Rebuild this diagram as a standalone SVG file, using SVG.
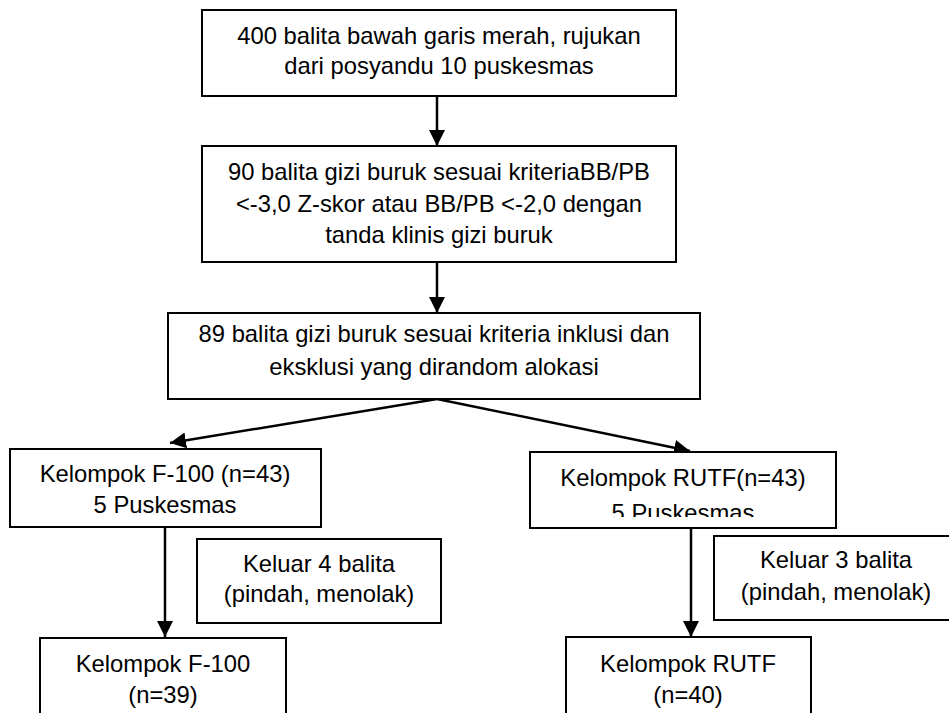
<svg xmlns="http://www.w3.org/2000/svg" width="949" height="713" viewBox="0 0 949 713">
<style>
.box{fill:#fff;stroke:#000;stroke-width:2}
.t{font-family:"Liberation Sans",Arial,sans-serif;font-size:23.8px;fill:#000;text-anchor:middle}
.c{stroke:#000;stroke-width:2.5;fill:none}
</style>
<defs>
<marker id="ah" markerUnits="userSpaceOnUse" markerWidth="16" markerHeight="16" refX="14" refY="7" orient="auto" viewBox="0 0 14 14">
<path d="M0,0 L14,7 L0,14 Z" fill="#000"/>
</marker>
<clipPath id="clip5"><rect x="530" y="452" width="306" height="65"/></clipPath>
</defs>
<rect width="949" height="713" fill="#fff"/>
<g id="connectors">
<line class="c" x1="437" y1="96" x2="437" y2="146" marker-end="url(#ah)"/>
<line class="c" x1="437" y1="262" x2="437" y2="313" marker-end="url(#ah)"/>
<line class="c" x1="437" y1="399" x2="170" y2="443" marker-end="url(#ah)"/>
<line class="c" x1="437" y1="399" x2="690" y2="451" marker-end="url(#ah)"/>
<line class="c" x1="165" y1="527" x2="165" y2="637" marker-end="url(#ah)"/>
<line class="c" x1="691" y1="528" x2="691" y2="637" marker-end="url(#ah)"/>
</g>
<g id="n1">
<rect class="box" x="202" y="10" width="474" height="86"/>
<text class="t" x="439" y="44">400 balita bawah garis merah, rujukan</text>
<text class="t" x="439" y="74">dari posyandu 10 puskesmas</text>
</g>
<g id="n2">
<rect class="box" x="202" y="146" width="474" height="116"/>
<text class="t" x="439" y="180">90 balita gizi buruk sesuai kriteriaBB/PB</text>
<text class="t" x="439" y="212">&lt;-3,0 Z-skor atau BB/PB &lt;-2,0 dengan</text>
<text class="t" x="439" y="243">tanda klinis gizi buruk</text>
</g>
<g id="n3">
<rect class="box" x="168" y="313" width="532" height="86"/>
<text class="t" x="434" y="342">89 balita gizi buruk sesuai kriteria inklusi dan</text>
<text class="t" x="434" y="375">eksklusi yang dirandom alokasi</text>
</g>
<g id="n4">
<rect class="box" x="10" y="449" width="311" height="78"/>
<text class="t" x="165" y="482">Kelompok F-100 (n=43)</text>
<text class="t" x="165" y="513">5 Puskesmas</text>
</g>
<g id="n5">
<rect class="box" x="530" y="452" width="306" height="76"/>
<text class="t" x="683" y="486">Kelompok RUTF(n=43)</text>
<text class="t" x="683" y="521" clip-path="url(#clip5)">5 Puskesmas</text>
</g>
<g id="n6">
<rect class="box" x="197" y="539" width="244" height="84"/>
<text class="t" x="319" y="572">Keluar 4 balita</text>
<text class="t" x="319" y="602">(pindah, menolak)</text>
</g>
<g id="n7">
<rect class="box" x="714" y="536" width="260" height="84"/>
<text class="t" x="836" y="568">Keluar 3 balita</text>
<text class="t" x="836" y="600">(pindah, menolak)</text>
</g>
<g id="n8">
<rect class="box" x="40" y="638" width="246" height="90"/>
<text class="t" x="163" y="672">Kelompok F-100</text>
<text class="t" x="163" y="703">(n=39)</text>
</g>
<g id="n9">
<rect class="box" x="566" y="637" width="245" height="90"/>
<text class="t" x="688" y="672">Kelompok RUTF</text>
<text class="t" x="688" y="703">(n=40)</text>
</g>
</svg>
